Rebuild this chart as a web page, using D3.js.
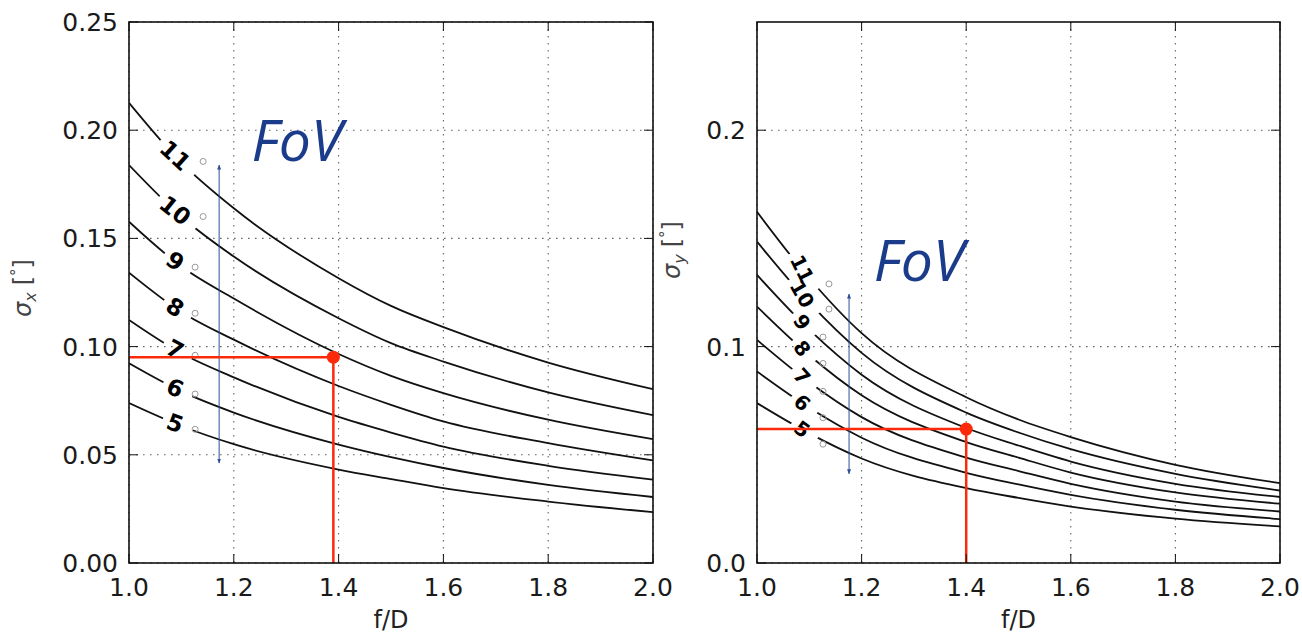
<!DOCTYPE html>
<html>
<head>
<meta charset="utf-8">
<script src="https://cdn.jsdelivr.net/npm/d3@7"></script>
<style>
  body { margin: 0; background: #fff; }
  svg { display: block; }
</style>
</head>
<body>
<div id="chart"></div>
<script>
const fdValues = [1.0, 1.1, 1.2, 1.4, 1.5, 1.6, 1.8, 2.0];
const fovLevels = [11, 10, 9, 8, 7, 6, 5];

// sigma_x [deg], one row per FoV level
const sigmaX = [
    [0.2127, 0.1850, 0.1639, 0.1316, 0.1188, 0.1090, 0.0926, 0.0803],
    [0.1839, 0.1600, 0.1416, 0.1131, 0.1016, 0.0931, 0.0788, 0.0683],
    [0.1577, 0.1370, 0.1222, 0.0966, 0.0865, 0.0785, 0.0662, 0.0572],
    [0.1342, 0.1160, 0.1032, 0.0818, 0.0731, 0.0654, 0.0554, 0.0474],
    [0.1123, 0.0969, 0.0858, 0.0675, 0.0603, 0.0538, 0.0449, 0.0385],
    [0.0923, 0.0793, 0.0695, 0.0547, 0.0489, 0.0439, 0.0361, 0.0305],
    [0.0739, 0.0633, 0.0549, 0.0432, 0.0388, 0.0346, 0.0284, 0.0235]
];

// sigma_y [deg]
const sigmaY = [
    [0.1623, 0.1316, 0.1062, 0.0766, 0.0663, 0.0582, 0.0454, 0.0369],
    [0.1485, 0.1203, 0.0971, 0.0695, 0.0603, 0.0526, 0.0412, 0.0335],
    [0.1331, 0.1078, 0.0870, 0.0624, 0.0543, 0.0469, 0.0366, 0.0305],
    [0.1185, 0.0960, 0.0775, 0.0559, 0.0487, 0.0418, 0.0326, 0.0274],
    [0.1031, 0.0835, 0.0674, 0.0487, 0.0425, 0.0366, 0.0284, 0.0238],
    [0.0885, 0.0717, 0.0579, 0.0417, 0.0363, 0.0315, 0.0246, 0.0203],
    [0.0739, 0.0599, 0.0483, 0.0346, 0.0301, 0.0261, 0.0205, 0.0169]
];

const xTicks = [1.0, 1.2, 1.4, 1.6, 1.8, 2.0];
const yTicksX = [0, 0.05, 0.10, 0.15, 0.20, 0.25];
const yTicksY = [0, 0.1, 0.2];

// operating point (red) and FoV range arrow
const pointX = { fd: 1.39, sigma: 0.0951 };
const pointY = { fd: 1.40, sigma: 0.0619 };
const arrowX = { fd: 1.172, from: 0.0462, to: 0.1839 };
const arrowY = { fd: 1.176, from: 0.0412, to: 0.1243 };
const fovTextX = { fd: 1.234, sigma: 0.1857 };
const fovTextY = { fd: 1.223, sigma: 0.1305 };

const width = 1302;
const height = 634;

const svg = d3.select('#chart').append('svg')
    .attr('width', width)
    .attr('height', height);

const defs = svg.append('defs');

defs.append('marker')
    .attr('id', 'tip')
    .attr('viewBox', '0 0 10 10')
    .attr('refX', 9)
    .attr('refY', 5)
    .attr('markerWidth', 5)
    .attr('markerHeight', 5)
    .attr('markerUnits', 'userSpaceOnUse')
    .attr('orient', 'auto-start-reverse')
    .append('path')
    .attr('d', 'M0,1 L10,5 L0,9 Z')
    .attr('fill', '#2d4f96');

const panels = [
    {
        id: 'px', left: 129, right: 653, data: sigmaX, yTicks: yTicksX, fmt: '.2f',
        point: pointX, arrow: arrowX, fov: fovTextX, labelFd: 1.088, rotK: 0.9,
        labelSize: 23, degDx: [28, 20], degDy: 6,
        ylabel: 'x', ylabelPos: [31, 288]
    },
    {
        id: 'py', left: 757, right: 1280, data: sigmaY, yTicks: yTicksY, fmt: '.1f',
        point: pointY, arrow: arrowY, fov: fovTextY, labelFd: 1.086, rotK: 1.25,
        labelSize: 20, degDx: [27, 21], degDy: 15,
        ylabel: 'y', ylabelPos: [680, 250]
    }
];

const plotTop = 22;
const plotBottom = 563;

function valueAt(row, fd) {
    const i = Math.max(1, Math.min(fdValues.length - 1, d3.bisectLeft(fdValues, fd)));
    const x0 = fdValues[i - 1], x1 = fdValues[i];
    const t = (fd - x0) / (x1 - x0);
    return row[i - 1] + t * (row[i] - row[i - 1]);
}

panels.forEach(function(p) {
    const x = d3.scaleLinear().domain([1, 2]).range([p.left, p.right]);
    const y = d3.scaleLinear().domain([0, 0.25]).range([plotBottom, plotTop]);

    const g = svg.append('g');

    defs.append('clipPath')
        .attr('id', p.id + '-clip')
        .append('rect')
        .attr('x', p.left).attr('y', plotTop)
        .attr('width', p.right - p.left).attr('height', plotBottom - plotTop);

    // dotted grid
    g.append('g').selectAll('line')
        .data(xTicks)
        .join('line')
        .attr('x1', d => x(d)).attr('x2', d => x(d))
        .attr('y1', plotTop).attr('y2', plotBottom)
        .attr('stroke', '#666')
        .attr('stroke-width', 1.1)
        .attr('stroke-dasharray', '1.6,5.4');

    g.append('g').selectAll('line')
        .data(p.yTicks)
        .join('line')
        .attr('x1', p.left).attr('x2', p.right)
        .attr('y1', d => y(d)).attr('y2', d => y(d))
        .attr('stroke', '#666')
        .attr('stroke-width', 1.1)
        .attr('stroke-dasharray', '1.6,5.4');

    // curves
    const line = d3.line()
        .x((d, i) => x(fdValues[i]))
        .y(d => y(d))
        .curve(d3.curveMonotoneX);

    const curves = g.append('g').attr('clip-path', `url(#${p.id}-clip)`);
    const labels = g.append('g');

    p.data.forEach(function(row, k) {
        const level = fovLevels[k];
        const fd = p.labelFd;
        const cx = x(fd);
        const cy = y(valueAt(row, fd));
        const dx = x(fd + 0.025) - x(fd - 0.025);
        const dy = y(valueAt(row, fd + 0.025)) - y(valueAt(row, fd - 0.025));
        const angle = Math.atan2(dy, dx) * 180 / Math.PI * p.rotK;

        const lab = labels.append('g')
            .attr('transform', `translate(${cx},${cy}) rotate(${angle})`);
        const txt = lab.append('text')
            .attr('text-anchor', 'middle')
            .attr('dominant-baseline', 'central')
            .attr('font-family', 'DejaVu Sans')
            .attr('font-size', p.labelSize)
            .attr('font-weight', 'bold')
            .attr('fill', '#000')
            .text(level);
        const tw = txt.node().getComputedTextLength();

        const nd = String(level).length;
        labels.append('circle')
            .attr('cx', cx + p.degDx[nd === 2 ? 0 : 1])
            .attr('cy', cy + p.degDy)
            .attr('r', 3)
            .attr('fill', 'none')
            .attr('stroke', '#999')
            .attr('stroke-width', 1);

        // gap in the curve under its label
        const mask = defs.append('mask').attr('id', `${p.id}-m${k}`)
            .attr('maskUnits', 'userSpaceOnUse')
            .attr('x', 0).attr('y', 0).attr('width', width).attr('height', height);
        mask.append('rect')
            .attr('x', 0).attr('y', 0).attr('width', width).attr('height', height)
            .attr('fill', '#fff');
        const gap = tw + 16;
        mask.append('rect')
            .attr('x', -gap / 2 + 3).attr('y', -p.labelSize * 0.5)
            .attr('width', gap).attr('height', p.labelSize)
            .attr('transform', `translate(${cx},${cy}) rotate(${angle})`)
            .attr('fill', '#000');

        curves.append('path')
            .attr('d', line(row))
            .attr('fill', 'none')
            .attr('stroke', '#111')
            .attr('stroke-width', 1.8)
            .attr('mask', `url(#${p.id}-m${k})`);
    });

    // FoV range arrow
    g.append('line')
        .attr('x1', x(p.arrow.fd)).attr('x2', x(p.arrow.fd))
        .attr('y1', y(p.arrow.from)).attr('y2', y(p.arrow.to))
        .attr('stroke', '#2d4f96')
        .attr('stroke-width', 1)
        .attr('marker-start', 'url(#tip)')
        .attr('marker-end', 'url(#tip)');

    g.append('text')
        .attr('x', x(p.fov.fd))
        .attr('y', y(p.fov.sigma))
        .attr('font-family', 'Open Sans')
        .attr('font-style', 'italic')
        .attr('font-size', 57)
        .attr('fill', '#1b3c8a')
        .text('FoV');

    // red operating point
    g.append('path')
        .attr('d', `M${p.left},${y(p.point.sigma)} H${x(p.point.fd)} V${plotBottom}`)
        .attr('fill', 'none')
        .attr('stroke', '#fa2a0a')
        .attr('stroke-width', 2.5);
    g.append('circle')
        .attr('cx', x(p.point.fd))
        .attr('cy', y(p.point.sigma))
        .attr('r', 6.5)
        .attr('fill', '#fa2a0a');

    // ticks on all four sides, pointing in
    const tl = 9;
    const ticks = g.append('g').attr('stroke', '#111').attr('stroke-width', 1);
    xTicks.forEach(function(t) {
        ticks.append('line').attr('x1', x(t)).attr('x2', x(t)).attr('y1', plotBottom).attr('y2', plotBottom - tl);
        ticks.append('line').attr('x1', x(t)).attr('x2', x(t)).attr('y1', plotTop).attr('y2', plotTop + tl);
    });
    p.yTicks.forEach(function(t) {
        ticks.append('line').attr('x1', p.left).attr('x2', p.left + tl).attr('y1', y(t)).attr('y2', y(t));
        ticks.append('line').attr('x1', p.right).attr('x2', p.right - tl).attr('y1', y(t)).attr('y2', y(t));
    });

    // frame
    g.append('rect')
        .attr('x', p.left).attr('y', plotTop)
        .attr('width', p.right - p.left).attr('height', plotBottom - plotTop)
        .attr('fill', 'none')
        .attr('stroke', '#111')
        .attr('stroke-width', 1.6);

    // tick labels
    g.append('g').selectAll('text')
        .data(xTicks)
        .join('text')
        .attr('x', d => x(d))
        .attr('y', 596)
        .attr('text-anchor', 'middle')
        .attr('font-family', 'DejaVu Sans')
        .attr('font-size', 25)
        .attr('fill', '#1a1a1a')
        .text(d => d3.format('.1f')(d));

    g.append('g').selectAll('text')
        .data(p.yTicks)
        .join('text')
        .attr('x', p.left - 11)
        .attr('y', d => y(d) + 9)
        .attr('text-anchor', 'end')
        .attr('font-family', 'DejaVu Sans')
        .attr('font-size', 25)
        .attr('fill', '#1a1a1a')
        .text(d => d3.format(p.fmt)(d));

    // axis titles
    g.append('text')
        .attr('x', (p.left + p.right) / 2)
        .attr('y', 628)
        .attr('text-anchor', 'middle')
        .attr('font-family', 'DejaVu Sans')
        .attr('font-size', 24)
        .attr('fill', '#222')
        .text('f/D');

    const yl = g.append('text')
        .attr('transform', `translate(${p.ylabelPos[0]},${p.ylabelPos[1]}) rotate(-90)`)
        .attr('text-anchor', 'middle')
        .attr('font-family', 'DejaVu Sans')
        .attr('font-size', 24)
        .attr('fill', '#444');
    yl.append('tspan').attr('font-style', 'italic').text('σ');
    yl.append('tspan').attr('font-style', 'italic').attr('font-size', 16).attr('dy', 5).text(p.ylabel);
    yl.append('tspan').attr('dy', -5).attr('dx', 7).text('[');
    yl.append('tspan').attr('font-size', 15).attr('dy', -9).text('°');
    yl.append('tspan').attr('dy', 9).text(']');
});
</script>
</body>
</html>
